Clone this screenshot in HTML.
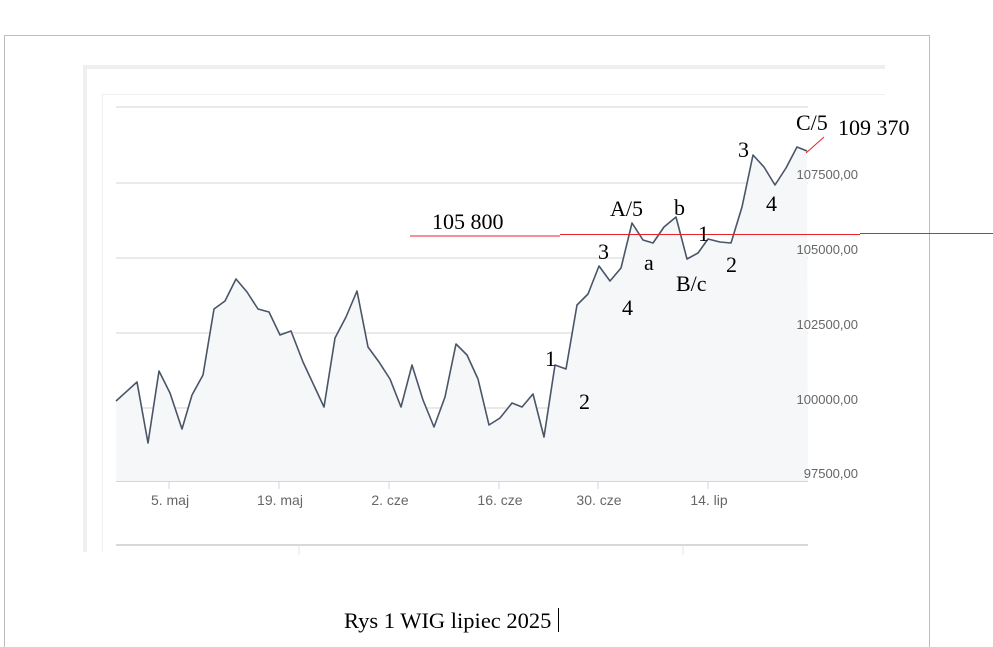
<!DOCTYPE html>
<html><head><meta charset="utf-8"><style>
body{margin:0;background:#fff;width:993px;height:647px;overflow:hidden}
svg{display:block}
.t{font-family:"Liberation Serif",serif;font-size:22px;fill:#000}
.ax{font-family:"Liberation Sans",sans-serif;font-size:13px;fill:#666}
</style></head><body>
<svg width="993" height="647" viewBox="0 0 993 647">
<rect x="4.5" y="35.5" width="925" height="620" fill="none" stroke="#bdbdbd"/>
<path d="M85 552V67H885" fill="none" stroke="#efefef" stroke-width="4"/>
<path d="M102.5 552V94.5H885" fill="none" stroke="#efefef"/>
<g stroke="#e3e3e3" stroke-width="1.5">
<line x1="116" y1="107" x2="808" y2="107"/><line x1="116" y1="183" x2="808" y2="183"/>
<line x1="116" y1="258" x2="808" y2="258"/><line x1="116" y1="333" x2="808" y2="333"/>
<line x1="116" y1="408" x2="808" y2="408"/>
</g>
<polygon fill="#f5f7f9" points="116,481 116,401 137,382 148,443 159,371 170,393 182,429 192,395 203,375 214,309 225,301 236,279 247,292 258,309 269,312 280,335 291,331 303,362 324,407 335,338 346,317 357,291 368,347 379,362 390,379 401,407 412,365 423,400 434,427 445,397 456,344 467,355 478,379 489,425 500,418 512,403 522,407 533,394 544,437 555,365 566,369 577,305 588,294 599,266 610,281 621,268 632,223 643,240 653,243 664,227 676,217 687,259 698,253 708,239 720,242 731,243 742,207 753,155 764,167 775,185 786,168 797,147 807,151 808,481"/>
<polyline fill="none" stroke="#4a5568" stroke-width="1.6" stroke-linejoin="round" points="116,401 137,382 148,443 159,371 170,393 182,429 192,395 203,375 214,309 225,301 236,279 247,292 258,309 269,312 280,335 291,331 303,362 324,407 335,338 346,317 357,291 368,347 379,362 390,379 401,407 412,365 423,400 434,427 445,397 456,344 467,355 478,379 489,425 500,418 512,403 522,407 533,394 544,437 555,365 566,369 577,305 588,294 599,266 610,281 621,268 632,223 643,240 653,243 664,227 676,217 687,259 698,253 708,239 720,242 731,243 742,207 753,155 764,167 775,185 786,168 797,147 807,151"/>
<line x1="116" y1="481.5" x2="808" y2="481.5" stroke="#ccd6eb"/>
<g stroke="#ccd6eb"><line x1="169" y1="481" x2="169" y2="489"/><line x1="279" y1="481" x2="279" y2="489"/><line x1="389" y1="481" x2="389" y2="489"/><line x1="499" y1="481" x2="499" y2="489"/><line x1="598" y1="481" x2="598" y2="489"/><line x1="708" y1="481" x2="708" y2="489"/></g>
<g class="ax" text-anchor="middle" style="font-size:14px"><text x="170" y="505">5. maj</text><text x="280" y="505">19. maj</text><text x="390" y="505">2. cze</text><text x="500" y="505">16. cze</text><text x="599" y="505">30. cze</text><text x="709" y="505">14. lip</text></g>
<g class="ax" text-anchor="end"><text x="858" y="179">107500,00</text><text x="858" y="254">105000,00</text><text x="858" y="329">102500,00</text><text x="858" y="404">100000,00</text><text x="858" y="478">97500,00</text></g>
<line x1="116" y1="545" x2="808" y2="545" stroke="#ccc" stroke-width="1.5"/>
<line x1="299" y1="545" x2="299" y2="555" stroke="#e5e5e5"/><line x1="683" y1="545" x2="683" y2="555" stroke="#e5e5e5"/>
<g stroke="#e8232a" stroke-width="1"><line x1="410" y1="236" x2="560" y2="236"/><line x1="560" y1="234.5" x2="860" y2="234.5"/><line x1="860" y1="233.5" x2="993" y2="233.5"/><line x1="806" y1="153" x2="824" y2="137"/></g>
<g class="t">
<text x="432" y="229">105 800</text><text x="796" y="130">C/5</text><text x="838" y="135">109 370</text>
<text x="738" y="157">3</text><text x="610" y="216">A/5</text><text x="674" y="215">b</text><text x="698" y="241">1</text>
<text x="598" y="259">3</text><text x="644" y="270">a</text><text x="676" y="291">B/c</text><text x="726" y="272">2</text>
<text x="766" y="211">4</text><text x="622" y="315">4</text><text x="545" y="366">1</text><text x="579" y="409">2</text>
<text x="344" y="628" style="font-size:22.5px">Rys 1 WIG lipiec 2025</text></g>
<line x1="558.5" y1="608" x2="558.5" y2="632" stroke="#000"/>
</svg>
</body></html>
